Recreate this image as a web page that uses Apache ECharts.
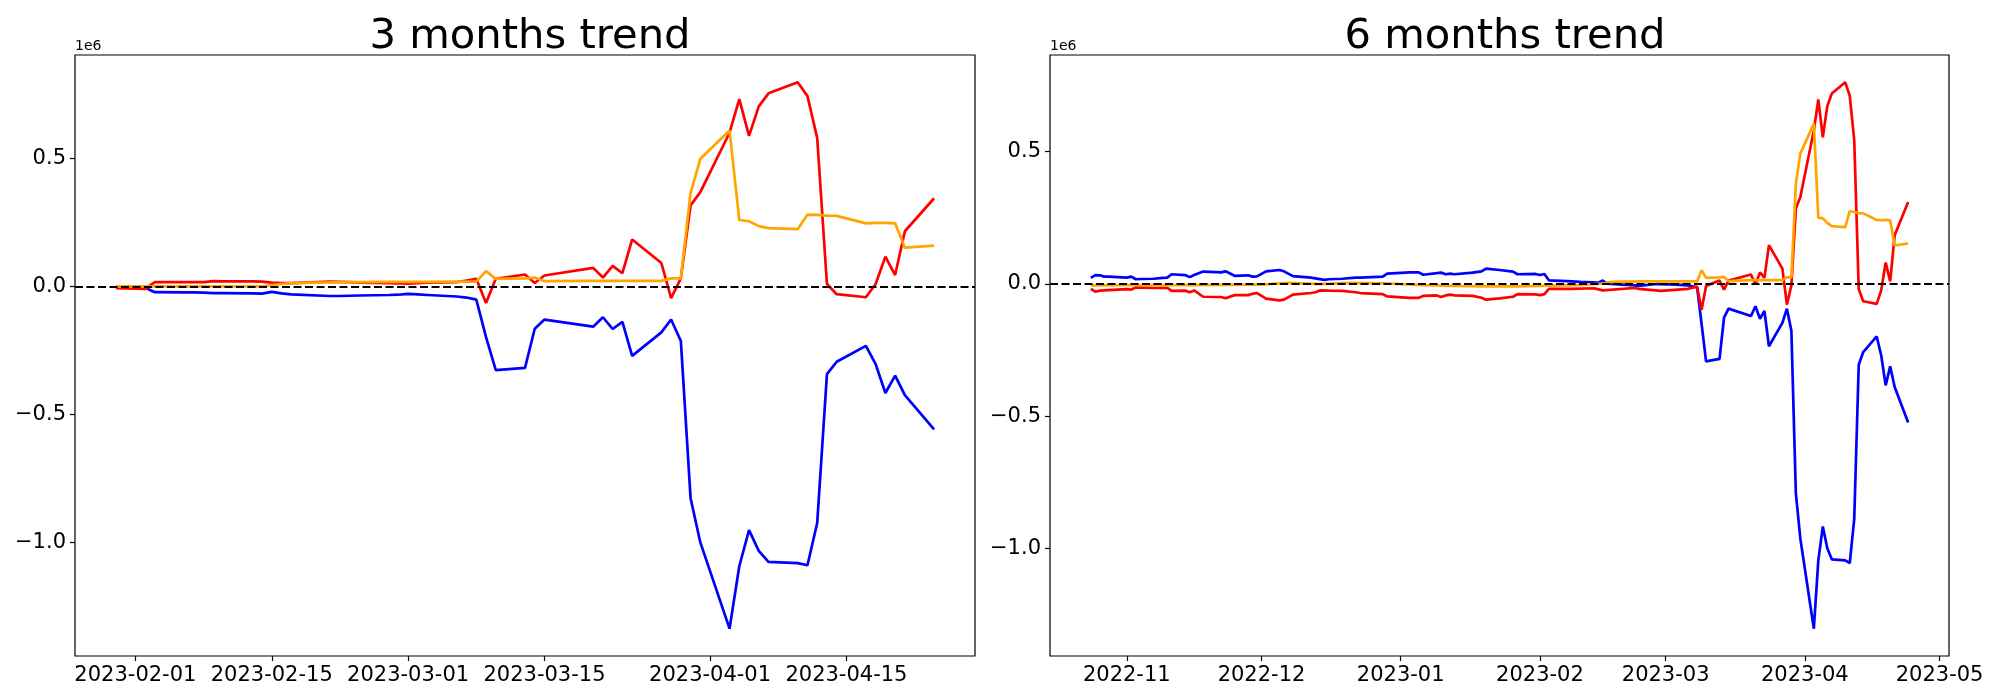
<!DOCTYPE html>
<html>
<head>
<meta charset="utf-8">
<script src="https://cdn.jsdelivr.net/npm/echarts@6/dist/echarts.min.js"></script>
<style>
html,body{margin:0;padding:0;background:#fff;}
#chart{width:2000px;height:700px;}
</style>
</head>
<body>
<div id="chart"></div>
<script>
// ---------- DATA (values in units of 1e6) ----------
const titles = ['3 months trend', '6 months trend'];
const scaleLabel = '1e6';

// 3-month chart: shared dates
const threeDates = ['2023-01-30','2023-01-31','2023-02-01','2023-02-02','2023-02-03',
 '2023-02-06','2023-02-07','2023-02-08','2023-02-09','2023-02-10',
 '2023-02-13','2023-02-14','2023-02-15','2023-02-16','2023-02-17',
 '2023-02-21','2023-02-22','2023-02-23','2023-02-24',
 '2023-02-27','2023-02-28','2023-03-01','2023-03-02','2023-03-03',
 '2023-03-06','2023-03-07','2023-03-08','2023-03-09','2023-03-10',
 '2023-03-13','2023-03-14','2023-03-15',
 '2023-03-20','2023-03-21','2023-03-22','2023-03-23','2023-03-24',
 '2023-03-27','2023-03-28','2023-03-29','2023-03-30','2023-03-31',
 '2023-04-03','2023-04-04','2023-04-05','2023-04-06','2023-04-07',
 '2023-04-10','2023-04-11','2023-04-12','2023-04-13','2023-04-14',
 '2023-04-17','2023-04-18','2023-04-19','2023-04-20','2023-04-21','2023-04-24'];
const threeRed = [-0.007,-0.008,-0.009,-0.010,0.016,
 0.016,0.016,0.016,0.020,0.019,
 0.019,0.018,0.014,0.012,0.012,
 0.018,0.017,0.016,0.014,
 0.012,0.011,0.010,0.012,0.014,
 0.016,0.022,0.029,-0.065,0.029,
 0.046,0.013,0.042,
 0.072,0.034,0.080,0.051,0.183,
 0.091,-0.046,0.031,0.316,0.368,
 0.600,0.731,0.588,0.703,0.754,
 0.797,0.743,0.579,0.009,-0.031,
 -0.043,0.009,0.116,0.044,0.215,0.344];
const threeBlue = [-0.001,-0.003,-0.004,-0.006,-0.023,
 -0.024,-0.024,-0.025,-0.027,-0.027,
 -0.028,-0.029,-0.022,-0.028,-0.032,
 -0.038,-0.038,-0.037,-0.036,
 -0.034,-0.033,-0.030,-0.032,-0.034,
 -0.040,-0.044,-0.052,-0.199,-0.328,
 -0.319,-0.166,-0.130,
 -0.158,-0.121,-0.167,-0.139,-0.272,
 -0.180,-0.130,-0.214,-0.828,-1.001,
 -1.338,-1.094,-0.953,-1.034,-1.077,
 -1.082,-1.090,-0.925,-0.343,-0.295,
 -0.233,-0.304,-0.417,-0.349,-0.425,-0.559];
const threeOrange = [0.000,0.000,0.000,0.000,0.000,
 0.000,0.000,0.000,0.000,0.000,
 0.000,0.000,0.005,0.009,0.012,
 0.015,0.016,0.016,0.016,
 0.017,0.017,0.017,0.017,0.017,
 0.018,0.018,0.018,0.059,0.029,
 0.031,0.034,0.020,
 0.021,0.021,0.021,0.021,0.021,
 0.021,0.031,0.031,0.365,0.498,
 0.609,0.259,0.254,0.235,0.227,
 0.223,0.280,0.279,0.276,0.275,
 0.246,0.248,0.248,0.246,0.151,0.159];

// 6-month chart: late period shared dates
const sixLateDates = ['2023-03-08','2023-03-09','2023-03-10','2023-03-13','2023-03-14','2023-03-15',
 '2023-03-20','2023-03-21','2023-03-22','2023-03-23','2023-03-24',
 '2023-03-27','2023-03-28','2023-03-29','2023-03-30','2023-03-31',
 '2023-04-03','2023-04-04','2023-04-05','2023-04-06','2023-04-07',
 '2023-04-10','2023-04-11','2023-04-12','2023-04-13','2023-04-14',
 '2023-04-17','2023-04-18','2023-04-19','2023-04-20','2023-04-21','2023-04-24'];
const sixLateRed = [-0.010,-0.097,-0.007,0.013,-0.021,0.013,
 0.036,-0.002,0.044,0.023,0.147,
 0.058,-0.078,-0.005,0.285,0.329,
 0.580,0.697,0.554,0.672,0.720,
 0.762,0.711,0.543,-0.020,-0.065,
 -0.075,-0.024,0.081,0.010,0.184,0.310];
const sixLateBlue = [-0.012,-0.150,-0.292,-0.283,-0.127,-0.093,
 -0.121,-0.084,-0.131,-0.102,-0.235,
 -0.147,-0.093,-0.177,-0.792,-0.962,
 -1.302,-1.044,-0.916,-0.998,-1.040,
 -1.044,-1.054,-0.887,-0.305,-0.257,
 -0.198,-0.269,-0.383,-0.311,-0.389,-0.523];
const sixLateOrange = [0.010,0.052,0.023,0.025,0.027,0.011,
 0.015,0.015,0.015,0.015,0.015,
 0.015,0.025,0.025,0.379,0.493,
 0.606,0.251,0.248,0.231,0.219,
 0.215,0.275,0.272,0.268,0.267,
 0.242,0.241,0.242,0.241,0.146,0.153];

// 6-month chart: early period per series
const sixEarlyBlueDates = ['2022-10-24','2022-10-25','2022-10-26','2022-10-27','2022-10-28','2022-10-31',
 '2022-11-01','2022-11-02','2022-11-03','2022-11-04','2022-11-07','2022-11-09','2022-11-10','2022-11-11',
 '2022-11-14','2022-11-15','2022-11-16','2022-11-18','2022-11-21','2022-11-22','2022-11-23','2022-11-25',
 '2022-11-28','2022-11-29','2022-11-30','2022-12-02','2022-12-05','2022-12-06','2022-12-08','2022-12-12',
 '2022-12-15','2022-12-16','2022-12-19','2022-12-22','2022-12-23','2022-12-28','2022-12-29',
 '2023-01-03','2023-01-05','2023-01-06','2023-01-10','2023-01-11','2023-01-12','2023-01-13',
 '2023-01-17','2023-01-19','2023-01-20','2023-01-23','2023-01-26','2023-01-27','2023-01-31',
 '2023-02-01','2023-02-02','2023-02-03','2023-02-07','2023-02-10','2023-02-14','2023-02-15','2023-02-16',
 '2023-02-22','2023-02-23','2023-02-27','2023-03-02','2023-03-06'];
const sixEarlyBlue = [0.023,0.034,0.033,0.028,0.028,0.025,
 0.024,0.028,0.018,0.019,0.020,0.023,0.024,0.037,
 0.034,0.026,0.034,0.047,0.045,0.044,0.048,0.031,
 0.033,0.028,0.029,0.048,0.053,0.048,0.030,0.024,
 0.016,0.018,0.020,0.024,0.024,0.028,0.039,
 0.044,0.044,0.035,0.043,0.037,0.039,0.037,
 0.043,0.048,0.058,0.053,0.047,0.037,0.038,
 0.034,0.038,0.014,0.011,0.008,0.005,0.013,0.001,
 -0.005,-0.007,0.000,-0.001,-0.005];
const sixEarlyRedDates = ['2022-10-24','2022-10-25','2022-10-26','2022-10-28',
 '2022-11-01','2022-11-02','2022-11-03','2022-11-07','2022-11-10','2022-11-11',
 '2022-11-14','2022-11-15','2022-11-16','2022-11-18','2022-11-21','2022-11-22','2022-11-23','2022-11-25',
 '2022-11-28','2022-11-29','2022-11-30','2022-12-02','2022-12-05','2022-12-06','2022-12-08',
 '2022-12-12','2022-12-13','2022-12-14','2022-12-16','2022-12-19','2022-12-22','2022-12-23',
 '2022-12-28','2022-12-29','2023-01-03','2023-01-05','2023-01-06','2023-01-09','2023-01-10',
 '2023-01-11','2023-01-12','2023-01-13','2023-01-17','2023-01-19','2023-01-20','2023-01-23',
 '2023-01-26','2023-01-27','2023-01-31','2023-02-01','2023-02-02','2023-02-03','2023-02-08',
 '2023-02-13','2023-02-15','2023-02-22','2023-02-23','2023-02-28','2023-03-06'];
const sixEarlyRed = [-0.018,-0.029,-0.025,-0.023,
 -0.019,-0.021,-0.013,-0.015,-0.014,-0.026,
 -0.025,-0.031,-0.024,-0.048,-0.049,-0.049,-0.054,-0.042,
 -0.042,-0.037,-0.034,-0.055,-0.062,-0.059,-0.040,
 -0.034,-0.031,-0.024,-0.025,-0.026,-0.031,-0.034,
 -0.038,-0.047,-0.052,-0.052,-0.045,-0.043,-0.049,
 -0.043,-0.040,-0.043,-0.045,-0.052,-0.059,-0.054,
 -0.048,-0.038,-0.039,-0.042,-0.038,-0.018,-0.018,
 -0.016,-0.024,-0.015,-0.018,-0.026,-0.018];
const sixEarlyOrangeDates = ['2022-10-24','2022-11-01','2022-11-15','2022-12-01','2022-12-07','2022-12-14',
 '2022-12-21','2022-12-28','2023-01-06','2023-01-13','2023-01-20','2023-01-27','2023-02-03',
 '2023-02-10','2023-02-15','2023-02-17','2023-02-24','2023-03-06'];
const sixEarlyOrange = [-0.005,-0.004,-0.004,-0.002,0.004,0.000,
 0.004,0.003,-0.004,-0.007,-0.009,-0.009,-0.006,
 -0.004,0.002,0.008,0.010,0.010];

const threeTicks = ['2023-02-01','2023-02-15','2023-03-01','2023-03-15','2023-04-01','2023-04-15'];
const sixTicks = ['2022-11-01','2022-12-01','2023-01-01','2023-02-01','2023-03-01','2023-04-01','2023-05-01'];
const yTicks = [-1.0, -0.5, 0.0, 0.5];

// ---------- helpers ----------
function ts(s){ const p = s.split('-').map(Number); return Date.UTC(p[0], p[1]-1, p[2]); }
function pad(n){ return (n<10?'0':'') + n; }
function pairs(dates, vals){ return dates.map((d,i)=>[ts(d), vals[i]]); }
function padRange(lo, hi){ const m = (hi-lo)*0.05; return [lo-m, hi+m]; }

const sixRedData = pairs(sixEarlyRedDates, sixEarlyRed).concat(pairs(sixLateDates, sixLateRed));
const sixBlueData = pairs(sixEarlyBlueDates, sixEarlyBlue).concat(pairs(sixLateDates, sixLateBlue));
const sixOrangeData = pairs(sixEarlyOrangeDates, sixEarlyOrange).concat(pairs(sixLateDates, sixLateOrange));
const threeRedData = pairs(threeDates, threeRed);
const threeBlueData = pairs(threeDates, threeBlue);
const threeOrangeData = pairs(threeDates, threeOrange);

function rangeOf(arrs, idx){
  let lo = Infinity, hi = -Infinity;
  arrs.forEach(a => a.forEach(p => { lo = Math.min(lo, p[idx]); hi = Math.max(hi, p[idx]); }));
  return padRange(lo, hi);
}
const x3 = rangeOf([threeRedData, threeBlueData, threeOrangeData], 0);
const y3 = rangeOf([threeRedData, threeBlueData, threeOrangeData], 1);
const x6 = rangeOf([sixRedData, sixBlueData, sixOrangeData], 0);
const y6 = rangeOf([sixRedData, sixBlueData, sixOrangeData], 1);

const FONT = 'DejaVu Sans';
const grids = [
  {left:75, right:1025, top:55, bottom:44, show:true, borderColor:'#000', borderWidth:1.2, backgroundColor:'transparent'},
  {left:1050, right:51, top:55, bottom:44, show:true, borderColor:'#000', borderWidth:1.2, backgroundColor:'transparent'}
];

function xAxis(gi, range, ticks, fmt){
  return {
    type:'value', gridIndex:gi, min:range[0], max:range[1], scale:true, position:'bottom',
    axisLine:{show:false, onZero:false},
    splitLine:{show:false},
    axisTick:{show:true, length:5, lineStyle:{color:'#000', width:1.2}, customValues: ticks.map(ts)},
    axisLabel:{show:true, color:'#000', fontFamily:FONT, fontSize:21, margin:9, hideOverlap:false,
      customValues: ticks.map(ts),
      formatter: function(v){ const d = new Date(v); return fmt(d); }}
  };
}
function yAxis(gi, range){
  return {
    type:'value', gridIndex:gi, min:range[0], max:range[1], position:'left',
    axisLine:{show:false, onZero:false}, splitLine:{show:false},
    axisTick:{show:true, length:5, lineStyle:{color:'#000', width:1.2}, customValues: yTicks},
    axisLabel:{show:true, color:'#000', fontFamily:FONT, fontSize:21, margin:9, customValues: yTicks,
      formatter: function(v){ const s = Math.abs(v) < 1e-9 ? '0.0' : v.toFixed(1); return s.replace('-', '\u2212'); }}
  };
}
const fmtDay = d => d.getUTCFullYear() + '-' + pad(d.getUTCMonth()+1) + '-' + pad(d.getUTCDate());
const fmtMonth = d => d.getUTCFullYear() + '-' + pad(d.getUTCMonth()+1);

function line(gi, data, color, z){
  return {type:'line', xAxisIndex:gi, yAxisIndex:gi, data:data, showSymbol:false, symbol:'none',
    lineStyle:{color:color, width:2.7}, itemStyle:{color:color}, z:z, silent:true};
}
function zeroLine(gi){
  return {type:'line', xAxisIndex:gi, yAxisIndex:gi, data:[], z:10, silent:true,
    markLine:{silent:true, symbol:'none', label:{show:false},
      lineStyle:{color:'#000', width:2.2, type:[8,3.5]}, data:[{yAxis:0}]}};
}

const chart = echarts.init(document.getElementById('chart'), null, {renderer:'canvas'});
chart.setOption({
  animation:false,
  backgroundColor:'#fff',
  title:[
    {text:titles[0], left:525, top:11, textAlign:'center', textStyle:{fontFamily:FONT, fontSize:41.7, fontWeight:'normal', color:'#000'}},
    {text:titles[1], left:1500, top:11, textAlign:'center', textStyle:{fontFamily:FONT, fontSize:41.7, fontWeight:'normal', color:'#000'}}
  ],
  grid:grids,
  xAxis:[xAxis(0, x3, threeTicks, fmtDay), xAxis(1, x6, sixTicks, fmtMonth)],
  yAxis:[yAxis(0, y3), yAxis(1, y6)],
  graphic:[
    {type:'text', left:75, top:39, style:{text:scaleLabel, font:'14px "DejaVu Sans"', fill:'#000'}},
    {type:'text', left:1050, top:39, style:{text:scaleLabel, font:'14px "DejaVu Sans"', fill:'#000'}}
  ],
  series:[
    line(0, threeBlueData, '#0000ff', 2),
    line(0, threeRedData, '#ff0000', 3),
    line(0, threeOrangeData, '#ffa500', 4),
    zeroLine(0),
    line(1, sixBlueData, '#0000ff', 2),
    line(1, sixRedData, '#ff0000', 3),
    line(1, sixOrangeData, '#ffa500', 4),
    zeroLine(1)
  ]
});
</script>
</body>
</html>
